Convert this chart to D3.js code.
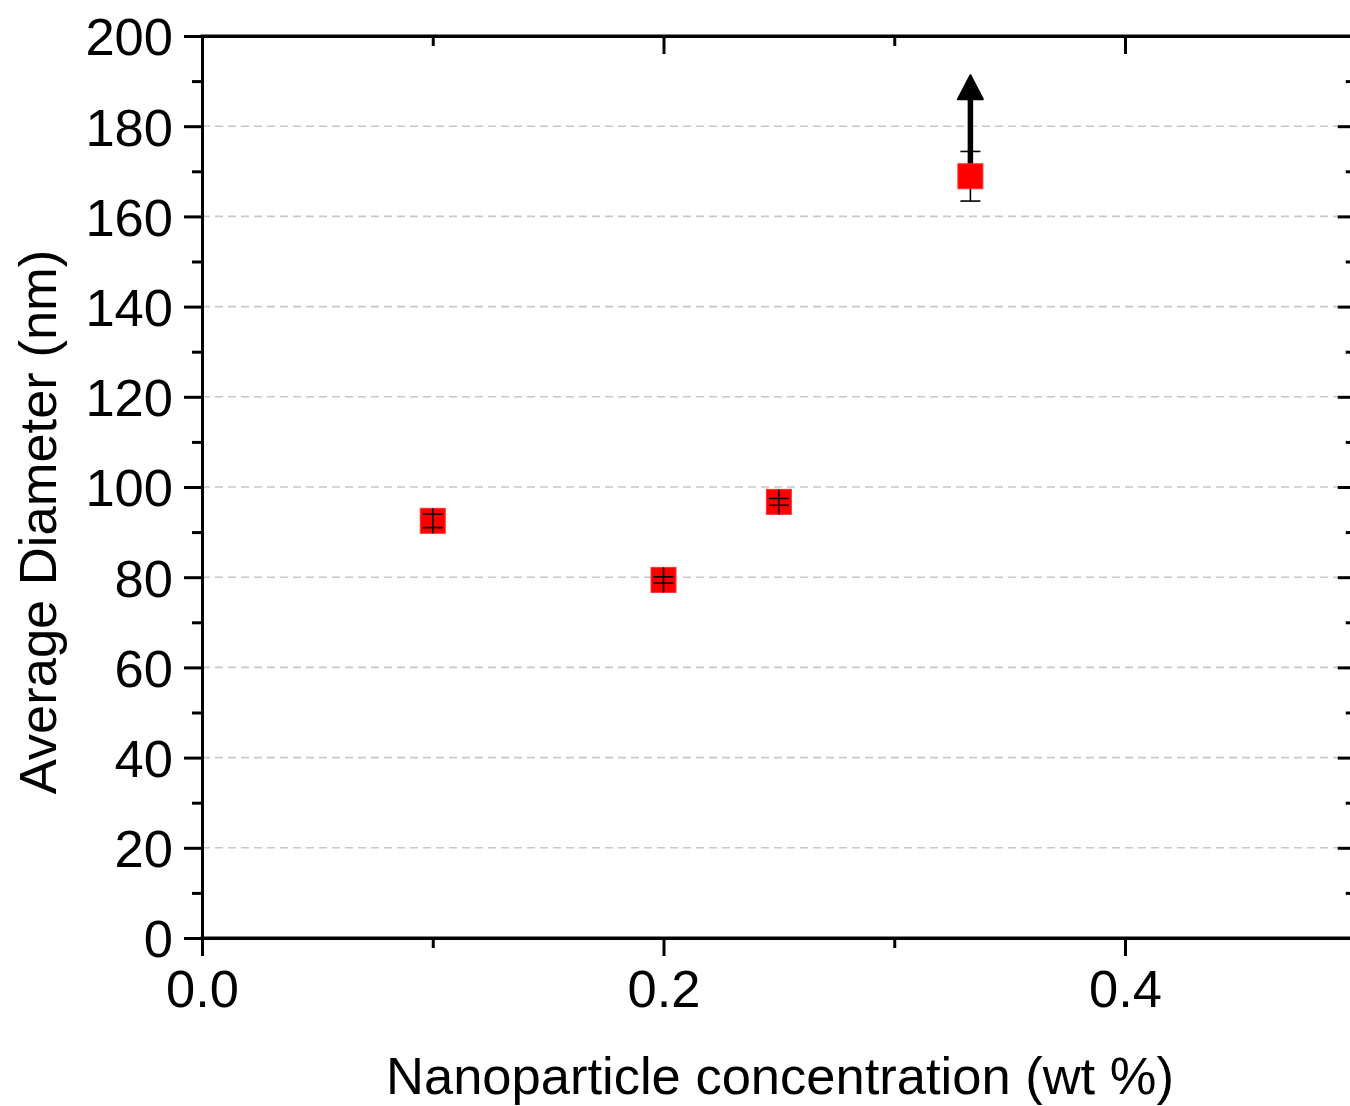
<!DOCTYPE html>
<html><head><meta charset="utf-8">
<script src="https://cdn.jsdelivr.net/npm/d3@7"></script>
<style>
html,body{margin:0;padding:0;background:#fff;overflow:hidden}
text{font-family:"Liberation Sans",Arial,sans-serif;fill:#000}
</style></head>
<body>
<svg id="chart" width="1350" height="1106"></svg>
<script>
// ---- data ----
const concentration = [0.1, 0.2, 0.25, 0.333];
const diameter = [92.5, 79.4, 96.7, 168.9];
const diameterErr = [1.5, 0.7, 0.75, 5.5];
const arrowFrom = [168.9];
const arrowTo = [191.3];
const arrowX = [0.333];
const xTicks = [0.0, 0.2, 0.4];
const xMinorTicks = [0.1, 0.3];
const yTicks = [0, 20, 40, 60, 80, 100, 120, 140, 160, 180, 200];
const yMinorTicks = [10, 30, 50, 70, 90, 110, 130, 150, 170, 190];
const gridValues = [20, 40, 60, 80, 100, 120, 140, 160, 180];
const xLabel = "Nanoparticle concentration (wt %)";
const yLabel = "Average Diameter (nm)";

const svg = d3.select("#chart");
const L = 202, R = 1355.75, T = 36, B = 938;
const x = d3.scaleLinear().domain([0, 0.5]).range([L, R]);
const y = d3.scaleLinear().domain([0, 200]).range([B, T]);
const FS = 52.5, MAJ = 18, MIN = 10, AW = 3;

// gridlines
svg.append("g").selectAll("line").data(gridValues).join("line")
  .attr("x1", L).attr("x2", R).attr("y1", d => y(d)).attr("y2", d => y(d))
  .attr("stroke", "#c8c8c8").attr("stroke-width", 1.6).attr("stroke-dasharray", "8,5");

function styleAxis(g) {
  g.selectAll("path.domain").attr("stroke", "#000").attr("stroke-width", AW);
  g.selectAll(".tick line").attr("stroke", "#000").attr("stroke-width", AW);
  g.selectAll(".tick text").attr("font-size", FS).attr("font-family", '"Liberation Sans", Arial, sans-serif').attr("fill", "#000");
}

// bottom axis
const gB = svg.append("g").attr("transform", `translate(0,${B})`)
  .call(d3.axisBottom(x).tickValues(xTicks).tickFormat(d3.format(".1f")).tickSizeInner(MAJ).tickSizeOuter(0).tickPadding(14));
styleAxis(gB);
svg.append("g").attr("transform", `translate(0,${B})`)
  .call(d3.axisBottom(x).tickValues(xMinorTicks).tickFormat("").tickSize(MIN)).call(styleAxis)
  .select("path.domain").remove();

// top axis (inward)
const gT = svg.append("g").attr("transform", `translate(0,${T})`)
  .call(d3.axisTop(x).tickValues(xTicks).tickFormat("").tickSizeInner(-MAJ).tickSizeOuter(0));
styleAxis(gT);
svg.append("g").attr("transform", `translate(0,${T})`)
  .call(d3.axisTop(x).tickValues(xMinorTicks).tickFormat("").tickSize(-MIN)).call(styleAxis)
  .select("path.domain").remove();

// left axis
const gL = svg.append("g").attr("transform", `translate(${L},0)`)
  .call(d3.axisLeft(y).tickValues(yTicks).tickSizeInner(MAJ).tickSizeOuter(0).tickPadding(11));
styleAxis(gL);
gL.selectAll(".tick text").attr("dy", "0.36em");
svg.append("g").attr("transform", `translate(${L},0)`)
  .call(d3.axisLeft(y).tickValues(yMinorTicks).tickFormat("").tickSize(MIN)).call(styleAxis)
  .select("path.domain").remove();

// right axis (inward)
const gR = svg.append("g").attr("transform", `translate(${R},0)`)
  .call(d3.axisRight(y).tickValues(yTicks).tickFormat("").tickSizeInner(-MAJ).tickSizeOuter(0));
styleAxis(gR);
svg.append("g").attr("transform", `translate(${R},0)`)
  .call(d3.axisRight(y).tickValues(yMinorTicks).tickFormat("").tickSize(-MIN)).call(styleAxis)
  .select("path.domain").remove();

// frame lines meeting at the corners
svg.append("line").attr("x1", L - AW/2).attr("x2", R).attr("y1", B).attr("y2", B).attr("stroke", "#000").attr("stroke-width", AW);
svg.append("line").attr("x1", L - AW/2).attr("x2", R).attr("y1", T).attr("y2", T).attr("stroke", "#000").attr("stroke-width", AW);

// arrow (under the markers)
const arrowG = svg.append("g");
arrowX.forEach((ax, i) => {
  const cx = x(ax);
  const tipY = y(arrowTo[i]);
  const headH = 24, headW = 25;
  arrowG.append("line").attr("x1", cx).attr("x2", cx)
    .attr("y1", y(arrowFrom[i])).attr("y2", tipY + headH - 2)
    .attr("stroke", "#000").attr("stroke-width", 5.5);
  arrowG.append("path")
    .attr("d", `M${cx},${tipY} L${cx + headW/2},${tipY + headH} L${cx - headW/2},${tipY + headH} Z`)
    .attr("fill", "#000").attr("stroke", "#000").attr("stroke-width", 2).attr("stroke-linejoin", "round");
});

const SQ = 25, CAP = 20;
const pts = concentration.map((c, i) => ({ cx: x(c), cy: y(diameter[i]), lo: y(diameter[i] - diameterErr[i]), hi: y(diameter[i] + diameterErr[i]) }));
const big = pts.filter(p => (p.lo - p.cy) > SQ/2);
const small = pts.filter(p => (p.lo - p.cy) <= SQ/2);

function drawErr(g, data) {
  g.selectAll("line.stem").data(data).join("line").attr("class", "stem")
    .attr("x1", d => d.cx).attr("x2", d => d.cx)
    .attr("y1", d => Math.min(d.hi, d.cy - SQ/2)).attr("y2", d => Math.max(d.lo, d.cy + SQ/2))
    .attr("stroke", "#000").attr("stroke-width", 1.6);
  g.selectAll("line.capHi").data(data).join("line").attr("class", "capHi")
    .attr("x1", d => d.cx - CAP/2).attr("x2", d => d.cx + CAP/2).attr("y1", d => d.hi).attr("y2", d => d.hi)
    .attr("stroke", "#000").attr("stroke-width", 1.6);
  g.selectAll("line.capLo").data(data).join("line").attr("class", "capLo")
    .attr("x1", d => d.cx - CAP/2).attr("x2", d => d.cx + CAP/2).attr("y1", d => d.lo).attr("y2", d => d.lo)
    .attr("stroke", "#000").attr("stroke-width", 1.6);
}
drawErr(svg.append("g"), big);

svg.append("g").selectAll("rect").data(pts).join("rect")
  .attr("x", d => d.cx - SQ/2).attr("y", d => d.cy - SQ/2)
  .attr("width", SQ).attr("height", SQ)
  .attr("fill", "#ff0000").attr("stroke", "#ff3030").attr("stroke-width", 1);

drawErr(svg.append("g"), small);

// axis labels
svg.append("text").attr("x", 780).attr("y", 1094).attr("text-anchor", "middle")
  .attr("font-size", FS).text(xLabel);
svg.append("text").attr("transform", "translate(56,522) rotate(-90)").attr("text-anchor", "middle")
  .attr("font-size", FS).text(yLabel);
</script>
</body></html>
